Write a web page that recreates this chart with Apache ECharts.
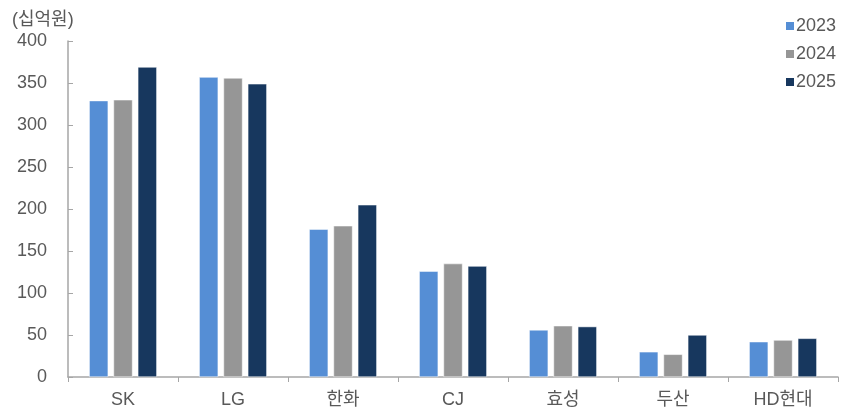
<!DOCTYPE html>
<html><head><meta charset="utf-8">
<script src="https://cdn.jsdelivr.net/npm/echarts@6/dist/echarts.min.js"></script>
<style>html,body{margin:0;padding:0;background:#fff}#c{width:844px;height:414px}</style>
</head><body><div id="c"></div>
<script>
const categories = ['SK','LG','한화','CJ','효성','두산','HD현대'];
const seriesNames = ['2023','2024','2025'];
const v2023 = [329,357,176,126,56,30,42];
const v2024 = [330,356,180,135,61,27,44];
const v2025 = [369,349,205,132,60,50,46];
const colors = ['#558ED5','#969696','#17375E'];
const font = '"Liberation Sans", "Noto Sans CJK KR", sans-serif';
const chart = echarts.init(document.getElementById('c'));
const data = [v2023, v2024, v2025];
chart.setOption({
  animation:false,
  textStyle:{fontFamily:font},
  title:{text:'(십억원)',left:7,top:6,textStyle:{fontSize:18,fontWeight:'normal',color:'#595959',fontFamily:font}},
  legend:{orient:'vertical',left:779,top:12,itemWidth:10,itemHeight:10,itemGap:10,icon:'rect',
    textStyle:{fontSize:18,color:'#595959',fontFamily:font,padding:[0,0,0,-4]}},
  grid:{left:68,right:6,top:41,bottom:37},
  xAxis:{type:'category',data:categories,
    axisLine:{lineStyle:{color:'#A6A6A6',width:1.5}},
    axisTick:{show:true,inside:false,length:5,lineStyle:{color:'#A6A6A6'}},
    axisLabel:{fontSize:18,color:'#595959',margin:14,fontFamily:font}},
  yAxis:{type:'value',min:0,max:400,interval:50,
    axisLine:{show:true,lineStyle:{color:'#A6A6A6',width:1.5}},
    axisTick:{show:true,inside:true,length:5,lineStyle:{color:'#A6A6A6'}},
    splitLine:{show:false},
    axisLabel:{fontSize:18,color:'#595959',margin:21,fontFamily:font}},
  series: seriesNames.map((n,i)=>({name:n,type:'bar',data:data[i],barWidth:19,barGap:'28%',
    itemStyle:{color:colors[i],borderColor:'#ffffff',borderWidth:0.5}}))
});
</script></body></html>
